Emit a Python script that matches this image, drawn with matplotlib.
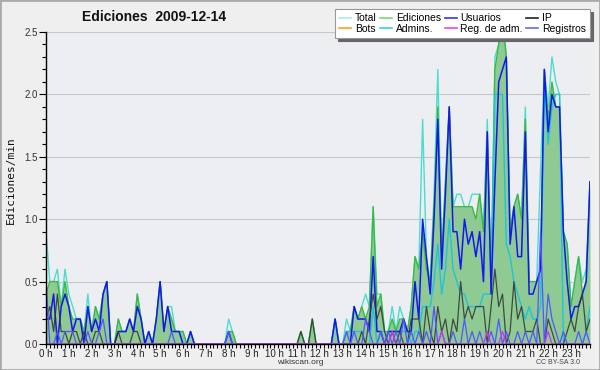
import matplotlib
matplotlib.use('Agg')
import matplotlib.pyplot as plt
import numpy as np
from matplotlib.ticker import MultipleLocator, FormatStrFormatter
from matplotlib.lines import Line2D
from matplotlib.patches import Rectangle

# ---- data: edits per minute, one value per 10 minutes (144 points) ----
total = [
    0.9, 0.5, 0.5, 0.6, 0.3, 0.6, 0.4, 0.3, 0.2, 0.2, 0.1, 0.4,
    0.1, 0.3, 0.2, 0.4, 0.5, 0.0, 0.0, 0.2, 0.1, 0.1, 0.2, 0.1,
    0.4, 0.2, 0.0, 0.1, 0.0, 0.2, 0.5, 0.1, 0.3, 0.3, 0.1, 0.1,
    0.1, 0.0, 0.1, 0.0, 0.0, 0.0, 0.0, 0.0, 0.0, 0.0, 0.0, 0.0,
    0.2, 0.1, 0.0, 0.0, 0.0, 0.0, 0.0, 0.0, 0.0, 0.0, 0.0, 0.0,
    0.0, 0.0, 0.0, 0.0, 0.0, 0.0, 0.0, 0.1, 0.0, 0.0, 0.2, 0.0,
    0.0, 0.0, 0.0, 0.0, 0.2, 0.0, 0.0, 0.2, 0.1, 0.3, 0.2, 0.3,
    0.4, 0.3, 1.1, 0.4, 0.4, 0.1, 0.1, 0.3, 0.1, 0.3, 0.2, 0.1,
    0.3, 0.7, 0.6, 1.8, 0.7, 0.5, 1.2, 2.2, 0.7, 1.3, 1.9, 1.1,
    1.2, 1.2, 1.1, 1.1, 1.2, 1.2, 1.2, 0.9, 1.8, 0.4, 2.3, 2.4,
    2.6, 2.3, 0.9, 1.1, 1.2, 1.0, 1.9, 0.5, 0.5, 0.5, 1.4, 2.2,
    1.9, 2.3, 2.1, 2.0, 0.9, 0.8, 0.3, 0.5, 0.7, 0.5, 0.6, 1.3,
]
edits = [
    0.4, 0.5, 0.5, 0.5, 0.3, 0.5, 0.3, 0.2, 0.2, 0.2, 0.1, 0.3,
    0.1, 0.3, 0.2, 0.4, 0.5, 0.0, 0.0, 0.2, 0.1, 0.1, 0.2, 0.1,
    0.4, 0.2, 0.0, 0.1, 0.0, 0.2, 0.5, 0.1, 0.3, 0.2, 0.1, 0.1,
    0.1, 0.0, 0.1, 0.0, 0.0, 0.0, 0.0, 0.0, 0.0, 0.0, 0.0, 0.0,
    0.1, 0.1, 0.0, 0.0, 0.0, 0.0, 0.0, 0.0, 0.0, 0.0, 0.0, 0.0,
    0.0, 0.0, 0.0, 0.0, 0.0, 0.0, 0.0, 0.1, 0.0, 0.0, 0.2, 0.0,
    0.0, 0.0, 0.0, 0.0, 0.2, 0.0, 0.0, 0.1, 0.1, 0.3, 0.2, 0.3,
    0.2, 0.3, 1.1, 0.3, 0.4, 0.1, 0.1, 0.2, 0.1, 0.2, 0.2, 0.1,
    0.3, 0.7, 0.6, 0.9, 0.6, 0.5, 1.1, 1.9, 0.7, 1.3, 1.9, 1.1,
    1.1, 1.1, 1.1, 1.1, 1.1, 1.0, 1.2, 0.9, 1.7, 0.5, 2.2, 2.4,
    2.6, 2.3, 0.9, 1.1, 1.2, 1.0, 1.8, 0.5, 0.5, 0.5, 0.6, 2.2,
    1.8, 2.1, 1.9, 1.9, 0.9, 0.8, 0.3, 0.5, 0.7, 0.4, 0.5, 1.3,
]
users = [
    0.2, 0.2, 0.4, 0.0, 0.3, 0.4, 0.3, 0.1, 0.2, 0.2, 0.0, 0.3,
    0.1, 0.2, 0.1, 0.4, 0.5, 0.0, 0.0, 0.1, 0.1, 0.1, 0.2, 0.1,
    0.3, 0.2, 0.0, 0.1, 0.0, 0.2, 0.5, 0.1, 0.3, 0.1, 0.1, 0.1,
    0.0, 0.0, 0.1, 0.0, 0.0, 0.0, 0.0, 0.0, 0.0, 0.0, 0.0, 0.0,
    0.1, 0.0, 0.0, 0.0, 0.0, 0.0, 0.0, 0.0, 0.0, 0.0, 0.0, 0.0,
    0.0, 0.0, 0.0, 0.0, 0.0, 0.0, 0.0, 0.0, 0.0, 0.0, 0.0, 0.0,
    0.0, 0.0, 0.0, 0.0, 0.2, 0.0, 0.0, 0.0, 0.0, 0.3, 0.2, 0.2,
    0.2, 0.1, 0.7, 0.1, 0.1, 0.0, 0.1, 0.1, 0.1, 0.1, 0.2, 0.1,
    0.1, 0.5, 0.2, 1.0, 0.7, 0.4, 1.0, 1.8, 0.6, 1.2, 1.9, 0.9,
    0.9, 0.6, 1.0, 0.8, 0.9, 0.7, 0.9, 0.5, 1.7, 0.4, 1.3, 2.1,
    2.2, 2.3, 0.8, 1.1, 0.7, 0.7, 1.7, 0.4, 0.4, 0.5, 0.6, 2.2,
    1.7, 2.0, 1.9, 1.9, 0.9, 0.5, 0.2, 0.3, 0.3, 0.4, 0.5, 1.3,
]
ip = [
    0.2, 0.3, 0.1, 0.4, 0.1, 0.1, 0.0, 0.1, 0.1, 0.0, 0.1, 0.0,
    0.0, 0.1, 0.1, 0.0, 0.0, 0.0, 0.0, 0.1, 0.0, 0.0, 0.0, 0.1,
    0.1, 0.0, 0.0, 0.0, 0.0, 0.0, 0.0, 0.0, 0.0, 0.0, 0.0, 0.0,
    0.0, 0.0, 0.0, 0.0, 0.0, 0.0, 0.0, 0.0, 0.0, 0.0, 0.0, 0.0,
    0.0, 0.0, 0.0, 0.0, 0.0, 0.0, 0.0, 0.0, 0.0, 0.0, 0.0, 0.0,
    0.0, 0.0, 0.0, 0.0, 0.0, 0.0, 0.0, 0.1, 0.0, 0.0, 0.2, 0.0,
    0.0, 0.0, 0.0, 0.0, 0.0, 0.0, 0.0, 0.0, 0.0, 0.0, 0.0, 0.1,
    0.0, 0.2, 0.4, 0.2, 0.3, 0.1, 0.0, 0.1, 0.0, 0.1, 0.0, 0.0,
    0.2, 0.2, 0.2, 0.0, 0.3, 0.1, 0.0, 0.3, 0.1, 0.2, 0.0, 0.2,
    0.1, 0.5, 0.2, 0.3, 0.2, 0.3, 0.3, 0.3, 0.0, 0.3, 0.6, 0.3,
    0.4, 0.0, 0.1, 0.5, 0.2, 0.3, 0.1, 0.1, 0.1, 0.2, 0.0, 0.0,
    0.2, 0.1, 0.0, 0.0, 0.0, 0.1, 0.2, 0.1, 0.3, 0.4, 0.1, 0.2,
]
bots = [
    0.0, 0.0, 0.0, 0.0, 0.0, 0.0, 0.0, 0.0, 0.0, 0.0, 0.0, 0.0,
    0.0, 0.0, 0.0, 0.0, 0.0, 0.0, 0.0, 0.0, 0.0, 0.0, 0.0, 0.0,
    0.0, 0.0, 0.0, 0.0, 0.0, 0.0, 0.0, 0.0, 0.0, 0.0, 0.0, 0.0,
    0.0, 0.0, 0.0, 0.0, 0.0, 0.0, 0.0, 0.0, 0.0, 0.0, 0.0, 0.0,
    0.0, 0.0, 0.0, 0.0, 0.0, 0.0, 0.0, 0.0, 0.0, 0.0, 0.0, 0.0,
    0.0, 0.0, 0.0, 0.0, 0.0, 0.0, 0.0, 0.0, 0.0, 0.0, 0.0, 0.0,
    0.0, 0.0, 0.0, 0.0, 0.0, 0.0, 0.0, 0.0, 0.0, 0.0, 0.0, 0.0,
    0.0, 0.0, 0.0, 0.0, 0.0, 0.0, 0.0, 0.0, 0.0, 0.0, 0.0, 0.0,
    0.0, 0.0, 0.0, 0.0, 0.0, 0.0, 0.0, 0.0, 0.0, 0.0, 0.0, 0.0,
    0.0, 0.0, 0.0, 0.0, 0.0, 0.0, 0.0, 0.0, 0.0, 0.0, 0.0, 0.0,
    0.0, 0.0, 0.0, 0.0, 0.0, 0.0, 0.0, 0.0, 0.0, 0.0, 0.0, 0.0,
    0.0, 0.0, 0.0, 0.0, 0.0, 0.0, 0.0, 0.0, 0.0, 0.0, 0.0, 0.0,
]
admins = [
    0.0, 0.0, 0.0, 0.0, 0.0, 0.0, 0.0, 0.0, 0.0, 0.0, 0.0, 0.0,
    0.0, 0.0, 0.0, 0.0, 0.0, 0.0, 0.0, 0.0, 0.0, 0.0, 0.0, 0.0,
    0.0, 0.0, 0.0, 0.0, 0.0, 0.0, 0.0, 0.0, 0.0, 0.0, 0.0, 0.0,
    0.0, 0.0, 0.0, 0.0, 0.0, 0.0, 0.0, 0.0, 0.0, 0.0, 0.0, 0.0,
    0.0, 0.0, 0.0, 0.0, 0.0, 0.0, 0.0, 0.0, 0.0, 0.0, 0.0, 0.0,
    0.0, 0.0, 0.0, 0.0, 0.0, 0.0, 0.0, 0.0, 0.0, 0.0, 0.0, 0.0,
    0.0, 0.0, 0.0, 0.0, 0.2, 0.0, 0.0, 0.1, 0.1, 0.1, 0.1, 0.1,
    0.0, 0.0, 0.3, 0.0, 0.1, 0.1, 0.1, 0.1, 0.1, 0.1, 0.1, 0.1,
    0.0, 0.1, 0.1, 0.3, 0.3, 0.3, 0.5, 0.8, 0.4, 0.6, 1.0, 0.6,
    0.5, 0.4, 0.4, 0.3, 0.3, 0.3, 0.3, 0.4, 0.4, 0.4, 2.0, 2.0,
    2.0, 0.8, 0.7, 0.5, 0.4, 0.3, 0.2, 0.3, 0.2, 0.2, 0.3, 2.1,
    1.6, 1.9, 2.0, 2.0, 0.0, 0.0, 0.0, 0.0, 0.0, 0.0, 0.1, 0.3,
]
admin_logs = [
    0.0, 0.0, 0.0, 0.0, 0.0, 0.0, 0.0, 0.0, 0.0, 0.0, 0.0, 0.0,
    0.0, 0.0, 0.0, 0.0, 0.0, 0.0, 0.0, 0.0, 0.0, 0.0, 0.0, 0.0,
    0.0, 0.0, 0.0, 0.0, 0.0, 0.0, 0.0, 0.0, 0.0, 0.0, 0.0, 0.0,
    0.0, 0.0, 0.0, 0.0, 0.0, 0.0, 0.0, 0.0, 0.0, 0.0, 0.0, 0.0,
    0.0, 0.0, 0.0, 0.0, 0.0, 0.0, 0.0, 0.0, 0.0, 0.0, 0.0, 0.0,
    0.0, 0.0, 0.0, 0.0, 0.0, 0.0, 0.0, 0.0, 0.0, 0.0, 0.0, 0.0,
    0.0, 0.0, 0.0, 0.0, 0.0, 0.0, 0.0, 0.0, 0.0, 0.0, 0.0, 0.0,
    0.0, 0.0, 0.0, 0.0, 0.0, 0.0, 0.0, 0.1, 0.0, 0.0, 0.0, 0.0,
    0.0, 0.0, 0.0, 0.0, 0.0, 0.0, 0.0, 0.0, 0.1, 0.0, 0.0, 0.0,
    0.0, 0.0, 0.0, 0.0, 0.0, 0.0, 0.0, 0.0, 0.1, 0.0, 0.0, 0.0,
    0.1, 0.0, 0.0, 0.0, 0.0, 0.0, 0.0, 0.0, 0.0, 0.0, 0.0, 0.0,
    0.1, 0.0, 0.0, 0.0, 0.0, 0.0, 0.0, 0.0, 0.0, 0.0, 0.0, 0.0,
]
logs = [
    0.5, 0.0, 0.0, 0.1, 0.0, 0.1, 0.1, 0.1, 0.0, 0.0, 0.0, 0.1,
    0.0, 0.0, 0.1, 0.2, 0.0, 0.0, 0.0, 0.0, 0.0, 0.0, 0.0, 0.0,
    0.0, 0.0, 0.0, 0.0, 0.0, 0.0, 0.0, 0.0, 0.0, 0.1, 0.0, 0.0,
    0.0, 0.0, 0.0, 0.0, 0.0, 0.0, 0.0, 0.0, 0.0, 0.0, 0.0, 0.0,
    0.1, 0.0, 0.0, 0.0, 0.0, 0.0, 0.0, 0.0, 0.0, 0.0, 0.0, 0.0,
    0.0, 0.0, 0.0, 0.0, 0.0, 0.0, 0.0, 0.0, 0.0, 0.0, 0.0, 0.0,
    0.0, 0.0, 0.0, 0.0, 0.0, 0.0, 0.0, 0.1, 0.0, 0.1, 0.0, 0.0,
    0.2, 0.1, 0.0, 0.0, 0.1, 0.0, 0.1, 0.0, 0.1, 0.0, 0.2, 0.0,
    0.1, 0.0, 0.1, 0.0, 0.1, 0.0, 0.3, 0.0, 0.1, 0.0, 0.0, 0.1,
    0.0, 0.0, 0.2, 0.0, 0.1, 0.0, 0.1, 0.0, 0.0, 0.1, 0.0, 0.2,
    0.0, 0.1, 0.0, 0.0, 0.1, 0.0, 0.1, 0.0, 0.1, 0.0, 0.9, 0.0,
    0.4, 0.2, 0.1, 0.0, 0.1, 0.0, 0.0, 0.0, 0.1, 0.0, 0.1, 0.0,
]
hour_labels = ['0 h', '1 h', '2 h', '3 h', '4 h', '5 h', '6 h', '7 h',
               '8 h', '9 h', '10 h', '11 h', '12 h', '13 h', '14 h', '15 h',
               '16 h', '17 h', '18 h', '19 h', '20 h', '21 h', '22 h', '23 h']
steps_per_hour = 6

x = np.arange(len(total))

fig = plt.figure(figsize=(6, 3.7), dpi=100, facecolor='#efefef')
ax = fig.add_axes([46/600, 26/370, 544/600, 312/370])
ax.set_facecolor('#eceef1')

ax.fill_between(x, 0, edits, color='#8fca92', lw=0, zorder=1)
ax.plot(x, total, color='#4cdccf', lw=1.0, zorder=2)
ax.plot(x, edits, color='#3cb843', lw=1.0, zorder=2)
ax.plot(x, admins, color='#1fc3da', lw=1.0, zorder=2)
ax.plot(x, users, color='#1616ee', lw=1.1, zorder=2)
ax.plot(x, ip, color='#333333', lw=0.9, alpha=0.85, zorder=2)
ax.plot(x, logs, color='#5555ff', lw=0.9, zorder=2)
ax.plot(x, admin_logs, color='#cc33ee', lw=0.9, zorder=2)
ax.plot(x, bots, color='#ff9900', lw=0.9, zorder=2)

ax.set_xlim(0, len(total) - 1)
ax.set_ylim(0, 2.5)
ax.set_xticks(np.arange(len(hour_labels)) * steps_per_hour)
ax.set_xticklabels(hour_labels, family='Liberation Sans')
ax.xaxis.set_minor_locator(MultipleLocator(1))
ax.yaxis.set_major_locator(MultipleLocator(0.5))
ax.yaxis.set_minor_locator(MultipleLocator(0.1))
ax.yaxis.set_major_formatter(FormatStrFormatter('%.1f'))
for lab in ax.get_yticklabels():
    lab.set_family('Liberation Sans')
ax.tick_params(axis='x', which='both', direction='out', length=3, width=0.8,
               labelsize=7, pad=0.5, labelcolor='#222222')
ax.tick_params(axis='y', which='major', direction='out', length=5, width=0.8,
               labelsize=7, pad=1, labelcolor='#333333')
ax.tick_params(axis='y', which='minor', direction='out', length=3, width=0.8)
ax.yaxis.grid(True, which='major', color='#c8c8c8', lw=0.8)
ax.set_axisbelow(True)
for s in ['top', 'right']:
    ax.spines[s].set_visible(False)
for s in ['left', 'bottom']:
    ax.spines[s].set_linewidth(1.0)
    ax.spines[s].set_color('black')

handles = [
    Line2D([], [], color='#a8ecea', lw=1.2, label='Total'),
    Line2D([], [], color='#ffa020', lw=1.2, label='Bots'),
    Line2D([], [], color='#7fd67f', lw=1.2, label='Ediciones'),
    Line2D([], [], color='#33d0e8', lw=1.2, label='Admins.'),
    Line2D([], [], color='#3333ff', lw=1.2, label='Usuarios'),
    Line2D([], [], color='#ee44ee', lw=1.2, label='Reg. de adm.'),
    Line2D([], [], color='#222222', lw=1.2, label='IP'),
    Line2D([], [], color='#6666ff', lw=1.2, label='Registros'),
]
leg = fig.legend(handles=handles, ncol=4, loc='upper right',
                 bbox_to_anchor=(590/600, 1 - 9/370),
                 prop={'family': 'Liberation Sans', 'size': 7.5},
                 frameon=True, fancybox=False, shadow={'color': '#666666', 'alpha': 1},
                 handlelength=1.15, handletextpad=0.35, columnspacing=0.35,
                 borderpad=0.4, labelspacing=0.05, borderaxespad=0)
leg.get_frame().set_facecolor('white')
leg.get_frame().set_edgecolor('#999999')
leg.get_frame().set_linewidth(0.8)
leg.set_zorder(10)

fig.text(154/600, 1 - 17/370, 'Ediciones  2009-12-14', ha='center', va='center',
         fontsize=10, fontweight='bold', family='Liberation Sans', color='#111111')
fig.text(11/600, 1 - 180/370, 'Ediciones/min', rotation=90, ha='center', va='center',
         family='DejaVu Sans Mono', fontsize=8, color='#111111')
fig.text(300/600, 1 - 362.5/370, 'wikiscan.org', ha='center', va='center',
         fontsize=6, family='Liberation Sans', color='#333333')
fig.text(558/600, 1 - 362/370, 'CC BY-SA 3.0', ha='center', va='center',
         fontsize=5, family='Liberation Sans', color='#444444')

fig.patches.append(Rectangle((0, 0), 1, 1, transform=fig.transFigure, fill=False,
                             edgecolor='#aaaaaa', lw=2, zorder=20))

fig.savefig('out.png', dpi=100, facecolor=fig.get_facecolor())
